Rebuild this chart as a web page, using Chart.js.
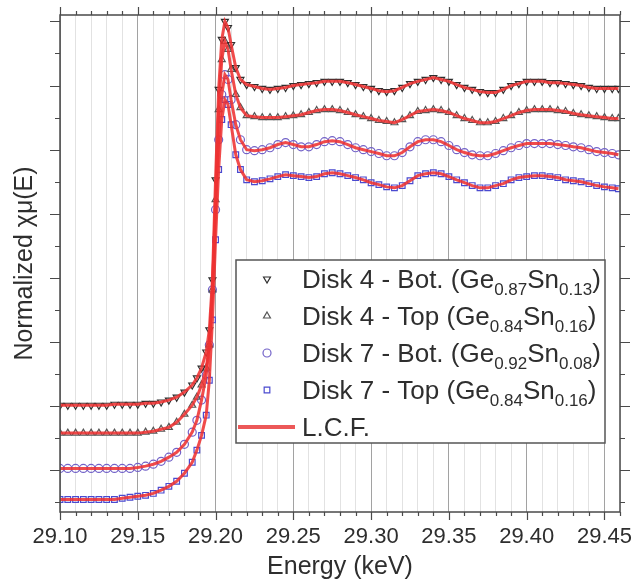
<!DOCTYPE html>
<html>
<head>
<meta charset="utf-8">
<title>Sn K-edge XANES</title>
<script src="https://cdn.jsdelivr.net/npm/chart.js@4.4.1/dist/chart.umd.min.js"></script>
<style>
  html, body { margin: 0; padding: 0; background: #fff; }
  #wrap { width: 632px; height: 584px; }
</style>
</head>
<body>
<div id="wrap"><canvas id="xanes" width="632" height="584"></canvas></div>
<script>
// photon energy (keV), shared by the four spectra
const energy = [
  29.100, 29.105, 29.110, 29.115, 29.120, 29.125, 29.130, 29.135, 29.140, 29.145,
  29.150, 29.155, 29.160, 29.165, 29.170, 29.175, 29.180, 29.185,
  29.188, 29.191, 29.194, 29.196, 29.198, 29.200, 29.202, 29.204, 29.206, 29.208, 29.210, 29.213, 29.216,
  29.220, 29.225, 29.230, 29.235, 29.240, 29.245, 29.250, 29.255, 29.260, 29.265,
  29.270, 29.275, 29.280, 29.285, 29.290, 29.295, 29.300, 29.305, 29.310, 29.315,
  29.320, 29.325, 29.330, 29.335, 29.340, 29.345, 29.350, 29.355, 29.360, 29.365,
  29.370, 29.375, 29.380, 29.385, 29.390, 29.395, 29.400, 29.405, 29.410, 29.415,
  29.420, 29.425, 29.430, 29.435, 29.440, 29.445, 29.450, 29.455, 29.459
];

// normalized absorption, stacked with offsets
const disk4Bot = [
  0.303, 0.303, 0.303, 0.303, 0.303, 0.303, 0.303, 0.306, 0.306, 0.306,
  0.306, 0.309, 0.309, 0.313, 0.319, 0.328, 0.344, 0.366,
  0.388, 0.419, 0.469, 0.538, 0.694, 1.006, 1.288, 1.444, 1.500, 1.481, 1.428, 1.356, 1.319,
  1.303, 1.297, 1.291, 1.288, 1.291, 1.294, 1.300, 1.303, 1.306, 1.309,
  1.313, 1.313, 1.313, 1.309, 1.303, 1.297, 1.291, 1.284, 1.281, 1.284,
  1.294, 1.306, 1.313, 1.319, 1.325, 1.319, 1.313, 1.303, 1.294, 1.288,
  1.281, 1.278, 1.278, 1.288, 1.300, 1.306, 1.313, 1.313, 1.313, 1.309,
  1.309, 1.306, 1.303, 1.300, 1.294, 1.291, 1.291, 1.291, 1.291
];
const disk4Top = [
  0.216, 0.216, 0.216, 0.216, 0.216, 0.216, 0.216, 0.216, 0.216, 0.216,
  0.216, 0.219, 0.222, 0.228, 0.234, 0.250, 0.275, 0.303,
  0.328, 0.366, 0.419, 0.491, 0.663, 0.944, 1.225, 1.381, 1.438, 1.413, 1.350, 1.272, 1.231,
  1.206, 1.203, 1.200, 1.200, 1.200, 1.203, 1.206, 1.209, 1.216, 1.222,
  1.225, 1.225, 1.222, 1.216, 1.209, 1.203, 1.197, 1.191, 1.188, 1.184,
  1.194, 1.206, 1.219, 1.222, 1.225, 1.222, 1.216, 1.206, 1.197, 1.191,
  1.184, 1.184, 1.188, 1.197, 1.206, 1.216, 1.222, 1.225, 1.225, 1.225,
  1.222, 1.219, 1.213, 1.209, 1.206, 1.203, 1.200, 1.197, 1.197
];
const disk7Bot = [
  0.106, 0.106, 0.106, 0.106, 0.106, 0.106, 0.106, 0.106, 0.106, 0.106,
  0.109, 0.113, 0.119, 0.128, 0.141, 0.156, 0.181, 0.219,
  0.256, 0.319, 0.397, 0.491, 0.663, 0.913, 1.131, 1.272, 1.334, 1.319, 1.256, 1.178, 1.131,
  1.100, 1.097, 1.100, 1.106, 1.116, 1.122, 1.116, 1.109, 1.109, 1.116,
  1.125, 1.128, 1.125, 1.116, 1.106, 1.100, 1.094, 1.088, 1.081, 1.081,
  1.091, 1.109, 1.125, 1.131, 1.131, 1.125, 1.113, 1.100, 1.091, 1.084,
  1.081, 1.081, 1.088, 1.097, 1.106, 1.113, 1.119, 1.119, 1.119, 1.119,
  1.116, 1.113, 1.109, 1.106, 1.100, 1.094, 1.091, 1.088, 1.084
];
const disk7Top = [
  0.009, 0.009, 0.009, 0.009, 0.009, 0.009, 0.009, 0.009, 0.013, 0.016,
  0.019, 0.022, 0.028, 0.038, 0.050, 0.066, 0.091, 0.125,
  0.163, 0.209, 0.272, 0.381, 0.569, 0.819, 1.038, 1.194, 1.256, 1.241, 1.178, 1.084, 1.038,
  1.006, 1.000, 1.003, 1.009, 1.016, 1.022, 1.019, 1.016, 1.013, 1.016,
  1.025, 1.028, 1.025, 1.019, 1.013, 1.006, 0.997, 0.991, 0.984, 0.981,
  0.988, 1.003, 1.019, 1.025, 1.028, 1.025, 1.016, 1.006, 0.997, 0.988,
  0.981, 0.981, 0.988, 0.994, 1.006, 1.013, 1.016, 1.019, 1.019, 1.016,
  1.013, 1.006, 1.003, 1.000, 0.994, 0.988, 0.984, 0.981, 0.978
];

const sampleNames = ['Disk 4 - Bot.', 'Disk 4 - Top', 'Disk 7 - Bot.', 'Disk 7 - Top'];
const geFrac = ['0.87', '0.84', '0.92', '0.84'];
const snFrac = ['0.13', '0.16', '0.08', '0.16'];
const fitLabel = 'L.C.F.';
const xTickLabels = ['29.10', '29.15', '29.20', '29.25', '29.30', '29.35', '29.40', '29.45'];

const spectra = [disk4Bot, disk4Top, disk7Bot, disk7Top];
const markers = [
  { pointStyle: 'triangle', rotation: 180, color: '#2e2e2e' },
  { pointStyle: 'triangle', rotation: 0, color: '#555555' },
  { pointStyle: 'circle', rotation: 0, color: '#7262c8' },
  { pointStyle: 'rect', rotation: 0, color: '#4a4ad0' }
];
const FIT_RED = 'rgba(238, 50, 50, 0.88)';
const FONT = '"Liberation Sans", Arial, sans-serif';
const INK = '#2e2e2e';

const toPoints = ys => energy.map((e, i) => ({ x: e, y: ys[i] }));

const datasets = [];
spectra.forEach((ys, i) => {
  datasets.push({
    label: sampleNames[i] + ' (Ge' + geFrac[i] + 'Sn' + snFrac[i] + ')',
    data: toPoints(ys),
    showLine: false,
    pointStyle: markers[i].pointStyle,
    rotation: markers[i].rotation,
    pointRadius: 4,
    pointBorderWidth: 1.2,
    pointBorderColor: markers[i].color,
    pointBackgroundColor: 'rgba(255,255,255,0)',
    order: 1
  });
});
spectra.forEach(ys => {
  datasets.push({
    label: fitLabel,
    data: toPoints(ys),
    showLine: true,
    borderColor: FIT_RED,
    borderWidth: 3,
    pointRadius: 0,
    tension: 0,
    order: 0
  });
});

// frame + tick marks on all four sides
const frameTicks = {
  id: 'frameTicks',
  afterDatasetsDraw(chart) {
    const { ctx, chartArea: a, scales: { x, y } } = chart;
    ctx.save();
    ctx.strokeStyle = '#4a4a4a';
    ctx.lineWidth = 1.2;
    ctx.beginPath();
    for (let i = 0; i <= 36; i++) {
      const px = Math.round(x.getPixelForValue(29.10 + i * 0.01)) + 0.5;
      const len = i % 5 === 0 ? 8 : 4;
      ctx.moveTo(px, a.bottom); ctx.lineTo(px, a.bottom + len);
      ctx.moveTo(px, a.top); ctx.lineTo(px, a.top - len);
    }
    for (let j = 0; j <= 15; j++) {
      const py = Math.round(y.getPixelForValue(j * 0.1)) + 0.5;
      const len = j % 2 === 1 ? 10 : 5;
      ctx.moveTo(a.left, py); ctx.lineTo(a.left - len, py);
      ctx.moveTo(a.right, py); ctx.lineTo(a.right + len, py);
    }
    ctx.stroke();
    ctx.lineWidth = 1.5;
    ctx.strokeRect(a.left, a.top, a.right - a.left, a.bottom - a.top);
    ctx.restore();
  }
};

// legend with subscripted compositions
const sampleLegend = {
  id: 'sampleLegend',
  afterDraw(chart) {
    const ctx = chart.ctx;
    const bx = 236, by = 260, bw = 369, bh = 183;
    const rowBase = [288, 325, 362, 399, 436];
    ctx.save();
    ctx.fillStyle = '#ffffff';
    ctx.fillRect(bx, by, bw, bh);
    ctx.strokeStyle = '#555555';
    ctx.lineWidth = 1.5;
    ctx.strokeRect(bx, by, bw, bh);
    ctx.textBaseline = 'alphabetic';
    ctx.textAlign = 'left';
    const mainFont = '26px ' + FONT;
    const subFont = '17px ' + FONT;
    sampleNames.forEach((name, i) => {
      ctx.strokeStyle = markers[i].color;
      ctx.fillStyle = 'rgba(255,255,255,0)';
      ctx.lineWidth = 1.2;
      Chart.helpers.drawPoint(ctx, {
        pointStyle: markers[i].pointStyle, rotation: markers[i].rotation,
        radius: 4, borderWidth: 1.2
      }, 267, rowBase[i] - 9);
      const parts = [[name + ' (Ge', 0], [geFrac[i], 1], ['Sn', 0], [snFrac[i], 1], [')', 0]];
      let tx = 302;
      ctx.fillStyle = INK;
      parts.forEach(([txt, sub]) => {
        ctx.font = sub ? subFont : mainFont;
        ctx.fillText(txt, tx, rowBase[i] + (sub ? 7 : 0));
        tx += ctx.measureText(txt).width;
      });
    });
    ctx.strokeStyle = '#ec5858';
    ctx.lineWidth = 4;
    ctx.beginPath();
    ctx.moveTo(bx + 2, rowBase[4] - 9);
    ctx.lineTo(295, rowBase[4] - 9);
    ctx.stroke();
    ctx.fillStyle = INK;
    ctx.font = mainFont;
    ctx.fillText(fitLabel, 302, rowBase[4]);
    ctx.restore();
  }
};

new Chart(document.getElementById('xanes'), {
  type: 'scatter',
  data: { datasets },
  options: {
    responsive: false,
    devicePixelRatio: 1,
    animation: false,
    layout: { padding: { top: 15, right: 12, left: 0, bottom: 0 } },
    plugins: { legend: { display: false }, tooltip: { enabled: false } },
    scales: {
      x: {
        type: 'linear',
        position: 'bottom',
        min: 29.10,
        max: 29.46,
        afterFit: s => { s.height = 72; },
        ticks: {
          stepSize: 0.01,
          autoSkip: false,
          maxRotation: 0,
          padding: 12,
          color: INK,
          font: { family: FONT, size: 22 },
          callback: v => {
            const k = Math.round(v * 100) - 2910;
            return k % 5 === 0 && xTickLabels[k / 5] ? xTickLabels[k / 5] : '';
          }
        },
        grid: {
          drawTicks: false,
          lineWidth: 1,
          color: c => (Math.round(c.tick.value * 100) % 5 === 0 ? '#a2a2a2' : '#e2e2e2')
        },
        border: { display: false },
        title: {
          display: true,
          text: 'Energy (keV)',
          color: INK,
          font: { family: FONT, size: 25 },
          padding: { top: 0, bottom: 2 }
        }
      },
      y: {
        type: 'linear',
        min: -0.03,
        max: 1.52,
        afterFit: s => { s.width = 60; },
        ticks: { display: false },
        grid: { drawOnChartArea: false, drawTicks: false },
        border: { display: false },
        title: {
          display: true,
          text: 'Normalized χμ(E)',
          color: INK,
          font: { family: FONT, size: 25 },
          padding: { top: 10, bottom: 0 }
        }
      }
    }
  },
  plugins: [frameTicks, sampleLegend]
});
</script>
</body>
</html>
